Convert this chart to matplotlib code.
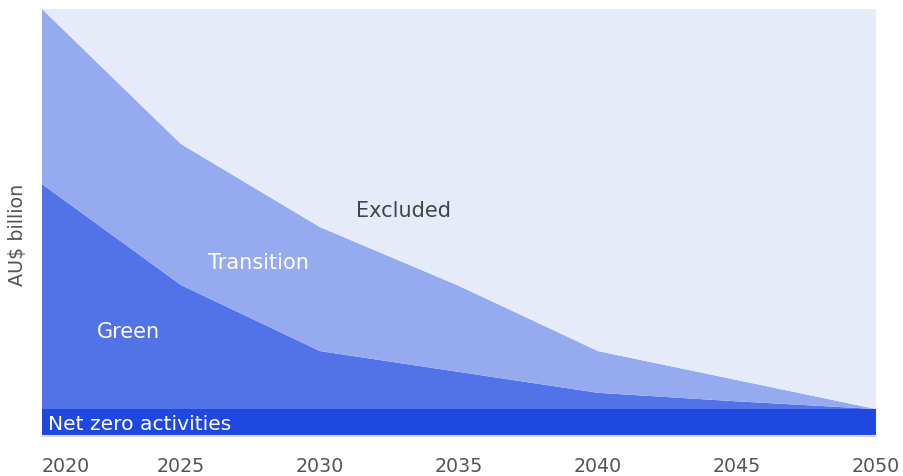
import numpy as np
import matplotlib.pyplot as plt

years = [2020, 2025, 2030, 2035, 2040, 2045, 2050]
net_zero = [6.1, 6.1, 6.1, 6.1, 6.1, 6.1, 6.1]
green_top = [58.9, 35.2, 19.7, 14.8, 9.9, 7.9, 6.1]
transition_top = [100.0, 68.3, 48.8, 35.0, 19.7, 12.9, 6.1]
total = [100.0] * 7
tick_labels = ["2020", "2025", "2030", "2035", "2040", "2045", "2050"]

nz = np.array(net_zero)
green = np.array(green_top) - nz
trans = np.array(transition_top) - np.array(green_top)
excl = np.array(total) - np.array(transition_top)

plt.rcParams['font.family'] = ['DejaVu Sans']

fig = plt.figure(figsize=(9.04, 4.77), dpi=100)
ax = fig.add_axes([42/904, 41/477, 834/904, 426/477])
ax.stackplot(years, nz, green, trans, excl,
             colors=['#1F48E0', '#5272E8', '#96AAF0', '#E6EBF9'], linewidth=0)
ax.set_xlim(2020, 2050)
ax.set_ylim(0, 100)
for s in ax.spines.values():
    s.set_visible(False)
ax.axhline(-0.3, color='#d8d8d8', lw=1.5, clip_on=False)
ax.set_yticks([])
ax.set_xticks(years)
ax.set_xticklabels(tick_labels, fontsize=13.7, color='#555555')
ax.tick_params(axis='x', length=0, pad=15)
ax.get_xticklabels()[0].set_ha('left')
ax.set_ylabel('AU$ billion', fontsize=13.8, color='#555555')
ax.yaxis.set_label_coords(-0.018, 0.472)

ax.text(2020.2, 2.6, 'Net zero activities', color='white', fontsize=14.6, va='center', ha='left')
ax.text(2023.1, 24.3, 'Green', color='white', fontsize=15, va='center', ha='center')
ax.text(2027.8, 40.5, 'Transition', color='white', fontsize=15, va='center', ha='center')
ax.text(2033.0, 52.8, 'Excluded', color='#444444', fontsize=15, va='center', ha='center')

fig.savefig('out.png', dpi=100)
